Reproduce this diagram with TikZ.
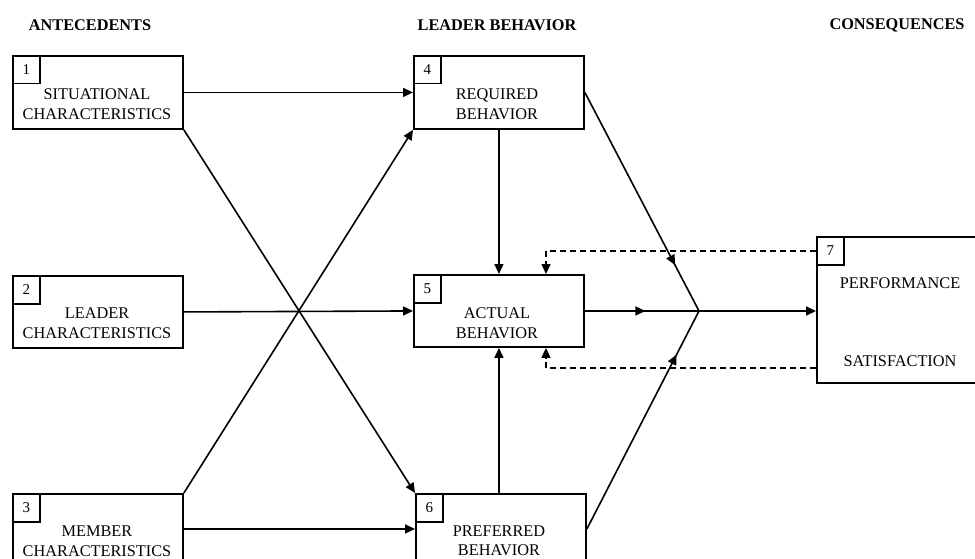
\documentclass[tikz,border=0pt]{standalone}
\usepackage{fontspec}
\setmainfont{Liberation Serif}
\usetikzlibrary{arrows.meta,decorations.markings,calc}

\begin{document}
\begin{tikzpicture}[x=1pt,y=-1pt,
  box/.style={draw,line width=1.9pt,minimum width=170pt,inner sep=0pt,anchor=north west},
  numbox/.style={draw,line width=1.5pt,minimum width=27pt,minimum height=28pt,inner sep=0pt,anchor=north west,font=\fontsize{15}{18}\selectfont},
  lbl/.style={align=center,inner sep=0pt,font=\fontsize{16.3}{19.5}\selectfont},
  head/.style={inner sep=0pt,font=\bfseries\fontsize{16.3}{19.5}\selectfont},
  tip/.style={-{Triangle[length=10pt,width=9pt]}},
  conn/.style={line width=1.6pt,tip},
  midarrow/.style={line width=1.6pt,postaction={decorate},
    decoration={markings,mark=at position #1 with {\arrow{Triangle[length=10pt,width=9pt]}}}},
  fb/.style={line width=1.6pt,dash pattern=on 6pt off 4pt}
]
\useasboundingbox (0,0) rectangle (975,559);
\clip (0,0) rectangle (975,559);

% column headings
\node[head] (hA) at (90,25) {ANTECEDENTS};
\node[head] (hL) at (497,25) {LEADER BEHAVIOR};
\node[head] (hC) at (897,25) {CONSEQUENCES};

% antecedents
\node[box,minimum height=73pt] (b1) at (12,55) {};
\node[numbox] (n1) at (b1.north west) {1};
\node[lbl] (t1) at (97,104) {SITUATIONAL\\CHARACTERISTICS};

\node[box,minimum height=72pt] (b2) at (12,275) {};
\node[numbox] (n2) at (b2.north west) {2};
\node[lbl] (t2) at (97,323) {LEADER\\CHARACTERISTICS};

\node[box,minimum height=70pt] (b3) at (12,493) {};
\node[numbox] (n3) at (b3.north west) {3};
\node[lbl] (t3) at (97,541) {MEMBER\\CHARACTERISTICS};

% leader behavior
\node[box,minimum height=73pt] (b4) at (413,55) {};
\node[numbox] (n4) at (b4.north west) {4};
\node[lbl] (t4) at (497,104) {REQUIRED\\BEHAVIOR};

\node[box,minimum height=72pt] (b5) at (413,274) {};
\node[numbox] (n5) at (b5.north west) {5};
\node[lbl] (t5) at (497,323) {ACTUAL\\BEHAVIOR};

\node[box,minimum height=70pt] (b6) at (415,493) {};
\node[numbox] (n6) at (b6.north west) {6};
\node[lbl] (t6) at (499,541) {PREFERRED\\BEHAVIOR};

% consequences
\node[box,minimum height=146pt] (b7) at (816,236) {};
\node[numbox] (n7) at (b7.north west) {7};
\node[lbl] (t7a) at (900,283) {PERFORMANCE};
\node[lbl] (t7b) at (900,361) {SATISFACTION};

% antecedents to leader behavior
\draw[conn] (b1.east) -- (b4.west);
\draw[conn] (b2.east) -- (b5.west);
\draw[conn] (b3.east) -- (b6.west);
\draw[conn] (b1.south east) -- (b6.north west);
\draw[conn] (b3.north east) -- (b4.south west);
\draw[conn] (b4.south) -- (b4.south |- b5.north);
\coordinate (p6) at ($(b6.north)+(-2,0)$);
\draw[conn] (p6) -- (p6 |- b5.south);

% convergence toward consequences
\coordinate (J) at (699,311);
\draw[midarrow=0.79] (b4.east) -- (J);
\draw[midarrow=0.53] (b5.east) -- (J);
\draw[midarrow=0.80] (b6.east) -- (J);
\draw[conn] (J) -- (J -| b7.west);

% feedback loops
\coordinate (f1) at (546,251);
\coordinate (f2) at (546,368);
\draw[fb] (f1 -| b7.west) -- (f1);
\draw[fb,tip] (f1) -- (f1 |- b5.north);
\draw[fb] (f2 -| b7.west) -- (f2);
\draw[fb,tip] (f2) -- (f2 |- b5.south);
\end{tikzpicture}
\end{document}
